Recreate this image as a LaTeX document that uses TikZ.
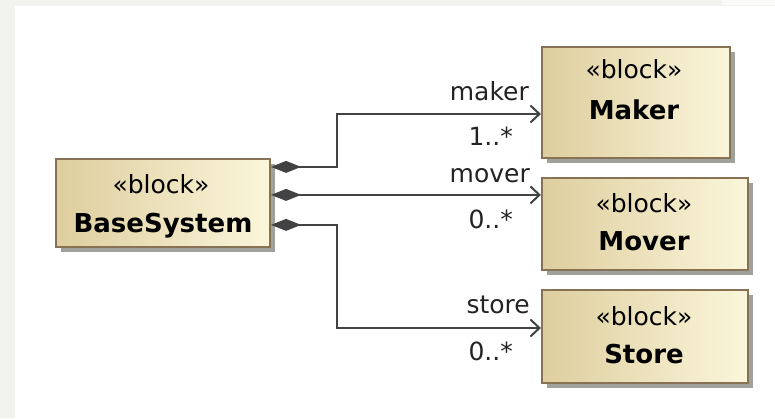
\documentclass[tikz,border=0pt]{standalone}
\usepackage{fontspec}
\setmainfont{DejaVu Sans}
\usetikzlibrary{arrows.meta,shadows,calc}

\definecolor{margingray}{RGB}{242,242,238}
\definecolor{boxtan}{RGB}{222,206,158}
\definecolor{boxcream}{RGB}{251,246,219}
\definecolor{boxborder}{RGB}{135,115,84}
\definecolor{shadowgray}{RGB}{160,160,156}
\definecolor{linegray}{RGB}{66,66,66}
\definecolor{labelgray}{RGB}{35,35,35}

\tikzset{
  blockbox/.style={draw=boxborder, line width=2.2pt, left color=boxtan, right color=boxcream,
    drop shadow={shadow xshift=5pt, shadow yshift=-5pt, fill=shadowgray, opacity=1},
    inner sep=0pt},
  stereo/.style={anchor=base, inner sep=0pt, text=black, font=\fontsize{25}{30}\selectfont},
  blockname/.style={anchor=base, inner sep=0pt, text=black, font=\fontsize{26}{31}\selectfont\bfseries},
  rolelabel/.style={anchor=base east, inner sep=0pt, text=labelgray, font=\fontsize{25}{30}\selectfont},
  agg/.style={draw=linegray, line width=2pt,
    {Diamond[length=30pt,width=12pt]}-{Straight Barb[length=9pt,width=17pt]}}
}

\begin{document}
\begin{tikzpicture}[x=1pt, y=-1pt]
  % canvas with its grey frame
  \useasboundingbox (0,0) rectangle (775,418);
  \fill[margingray] (0,0) rectangle (775,418);
  \fill[white] (15,6) rectangle (775,418);
  \fill[white!60!margingray] (722,0) rectangle (775,5);

  % blocks
  \node[blockbox, minimum width=214pt, minimum height=88pt] (base) at (163,203) {};
  \node[blockbox, minimum width=188pt, minimum height=111pt] (maker) at (636,102.5) {};
  \node[blockbox, minimum width=206pt, minimum height=92pt] (mover) at (645,224) {};
  \node[blockbox, minimum width=206pt, minimum height=93pt] (store) at (645,336.5) {};

  % block texts
  \node[stereo] (basest) at (161,193) {«block»};
  \node[blockname] (basenm) at (163,232) {BaseSystem};
  \node[stereo] (makerst) at (634,78) {«block»};
  \node[blockname] (makernm) at (634,119) {Maker};
  \node[stereo] (moverst) at (644,212) {«block»};
  \node[blockname] (movernm) at (644,250) {Mover};
  \node[stereo] (storest) at (644,325) {«block»};
  \node[blockname] (storenm) at (644,363) {Store};

  % part properties of BaseSystem
  \coordinate (s1) at ([yshift=-9pt]base.north east);
  \coordinate (s2) at ([yshift=-37pt]base.north east);
  \coordinate (s3) at ([yshift=-67pt]base.north east);

  \draw[agg] (s1) -- ++(66,0) |- ([yshift=-11.5pt]maker.west);
  \draw[agg] (s2) -- (s2 -| mover.west);
  \draw[agg] (s3) -- ++(66,0) |- ([yshift=8.5pt]store.west);

  % role names and multiplicities
  \node[rolelabel] (rmaker) at (529,100) {maker};
  \node[rolelabel] (mmaker) at (513,145) {1..*};
  \node[rolelabel] (rmover) at (530,182) {mover};
  \node[rolelabel] (mmover) at (513,228) {0..*};
  \node[rolelabel] (rstore) at (530,313) {store};
  \node[rolelabel] (mstore) at (513,360) {0..*};
\end{tikzpicture}
\end{document}
